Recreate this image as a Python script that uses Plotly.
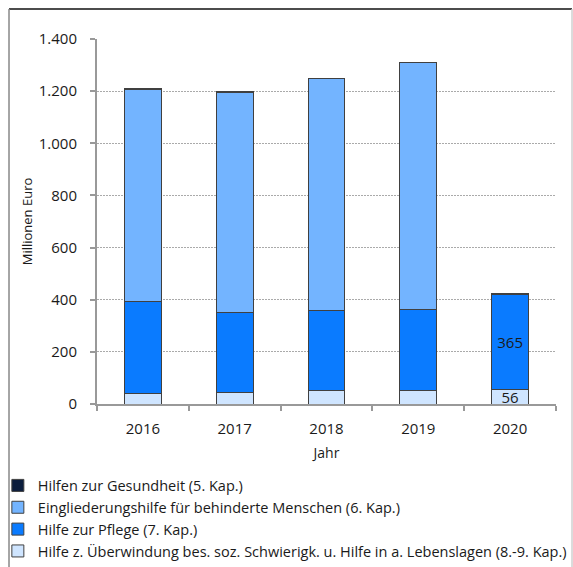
import plotly.graph_objects as go

jahre = ["2016", "2017", "2018", "2019", "2020"]
ueberwindung = [40, 45, 51, 50, 56]
pflege = [353, 306, 308, 314, 365]
eingliederung = [814, 843, 888, 944, 0]
gesundheit = [3, 3, 3, 3, 3]

label_ueberwindung = ["", "", "", "", "56"]
label_pflege = ["", "", "", "", "365"]

font = "Open Sans"
outline = dict(color="#404040", width=1)

fig = go.Figure()
fig.add_trace(go.Bar(x=jahre, y=ueberwindung, name="Hilfe z. Überwindung bes. soz. Schwierigk. u. Hilfe in a. Lebenslagen (8.-9. Kap.)",
                     legendgroup="a", marker=dict(color="#cfe5ff", line=outline),
                     text=label_ueberwindung, textposition="inside", insidetextanchor="middle",
                     textfont=dict(size=15, color="#1a1a1a"), textangle=0))
fig.add_trace(go.Bar(x=jahre, y=pflege, name="Hilfe zur Pflege (7. Kap.)",
                     legendgroup="b", marker=dict(color="#0a7bff", line=outline),
                     text=label_pflege, textposition="inside", insidetextanchor="middle",
                     textfont=dict(size=15, color="#1a1a1a"), textangle=0))
fig.add_trace(go.Bar(x=jahre, y=eingliederung, name="Eingliederungshilfe für behinderte Menschen (6. Kap.)",
                     legendgroup="c", marker=dict(color="#73b4ff", line=outline)))
fig.add_trace(go.Bar(x=jahre, y=gesundheit, name="Hilfen zur Gesundheit (5. Kap.)",
                     legendgroup="d", marker=dict(color="#0b1d3d", line=outline)))

fig.update_traces(hoverinfo="skip")

fig.update_layout(
    width=573, height=567,
    margin=dict(l=97, r=17, t=39, b=163, autoexpand=False),
    barmode="stack", bargap=0.6,
    separators=",.",
    paper_bgcolor="white", plot_bgcolor="white",
    font=dict(family=font, size=14, color="#1a1a1a"),
    uniformtext=dict(minsize=8, mode="show"),
    legend=dict(traceorder="reversed", orientation="v",
                xref="paper", yref="container", x=-0.216, y=0.172,
                xanchor="left", yanchor="top",
                font=dict(size=14.5, family=font), itemwidth=30,
                tracegroupgap=2, bgcolor="rgba(0,0,0,0)"),
    xaxis=dict(title=dict(text="Jahr", font=dict(size=14), standoff=11),
               showline=True, linecolor="#999999", linewidth=2,
               ticks="outside", tickson="boundaries", ticklen=5, tickcolor="#999999", tickwidth=2,
               tickfont=dict(size=15), tickangle=0, ticklabelstandoff=10, showgrid=False),
    yaxis=dict(title=dict(text="Millionen Euro", font=dict(size=13), standoff=3),
               range=[0, 1400], dtick=200, tickformat=",d",
               showline=True, linecolor="#999999", linewidth=2,
               ticks="outside", ticklen=5, tickcolor="#999999", tickwidth=2,
               tickfont=dict(size=15), ticklabelstandoff=10,
               showgrid=True, gridcolor="#aaaaaa", griddash="2px,1px", gridwidth=1,
               zeroline=False),
    shapes=[
        dict(type="line", xref="paper", yref="paper", x0=-0.1917, x1=1.0349, y0=1.0822, y1=1.0822,
             line=dict(color="#111111", width=1.5)),
        dict(type="line", xref="paper", yref="paper", x0=-0.1917, x1=-0.1917, y0=1.0822, y1=-0.46,
             line=dict(color="#888888", width=1.5)),
        dict(type="line", xref="paper", yref="paper", x0=1.0349, x1=1.0349, y0=1.0822, y1=-0.46,
             line=dict(color="#d0d0d0", width=1.5)),
    ],
)

fig.write_html("out.html", config={"displayModeBar": False},
               post_script="document.body.style.margin='0px';")
